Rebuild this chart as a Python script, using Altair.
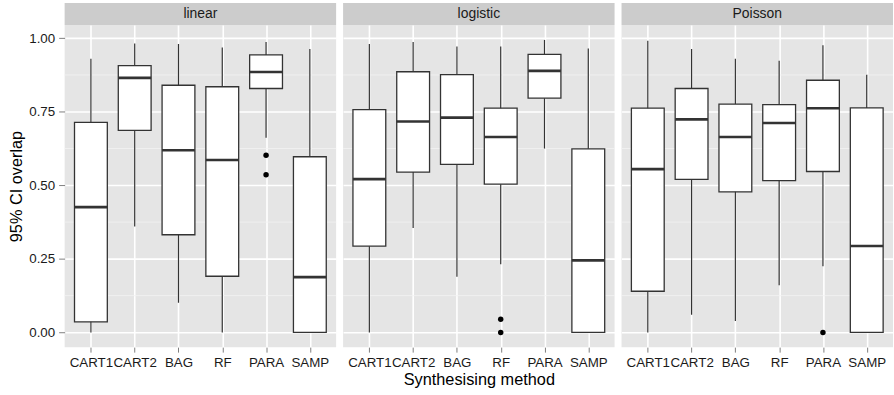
import altair as alt
import pandas as pd

categories = ["CART1", "CART2", "BAG", "RF", "PARA", "SAMP"]
models = ["linear", "logistic", "Poisson"]

# five-number summaries: low whisker, Q1, median, Q3, high whisker
linear_lo = [0.000, 0.360, 0.101, 0.000, 0.662, 0.000]
linear_q1 = [0.036, 0.687, 0.332, 0.191, 0.829, 0.000]
linear_med = [0.426, 0.865, 0.619, 0.586, 0.885, 0.188]
linear_q3 = [0.714, 0.907, 0.840, 0.835, 0.943, 0.597]
linear_hi = [0.930, 0.982, 0.980, 0.968, 0.987, 0.963]

logistic_lo = [0.000, 0.355, 0.189, 0.232, 0.625, 0.000]
logistic_q1 = [0.293, 0.545, 0.571, 0.504, 0.796, 0.000]
logistic_med = [0.521, 0.717, 0.730, 0.664, 0.889, 0.245]
logistic_q3 = [0.757, 0.886, 0.876, 0.762, 0.945, 0.624]
logistic_hi = [0.980, 0.987, 0.972, 0.972, 0.994, 0.965]

poisson_lo = [0.000, 0.060, 0.039, 0.160, 0.225, 0.000]
poisson_q1 = [0.140, 0.520, 0.478, 0.516, 0.547, 0.000]
poisson_med = [0.555, 0.724, 0.664, 0.712, 0.762, 0.294]
poisson_q3 = [0.762, 0.829, 0.776, 0.774, 0.857, 0.763]
poisson_hi = [0.991, 0.963, 0.930, 0.923, 0.976, 0.876]

outlier_model = ["linear", "linear", "logistic", "logistic", "Poisson"]
outlier_method = ["PARA", "PARA", "RF", "RF", "PARA"]
outlier_value = [0.602, 0.536, 0.045, 0.000, 0.000]

y_ticks = [0.0, 0.25, 0.5, 0.75, 1.0]
minor_ticks = [0.125, 0.375, 0.625, 0.875]

stats = {
    "linear": (linear_lo, linear_q1, linear_med, linear_q3, linear_hi),
    "logistic": (logistic_lo, logistic_q1, logistic_med, logistic_q3, logistic_hi),
    "Poisson": (poisson_lo, poisson_q1, poisson_med, poisson_q3, poisson_hi),
}

W = 273
H = 324
STRIP = 22
BOXW = 33
DARK = "#333333"
FONT = "Liberation Sans"

outliers_all = pd.DataFrame({"model": outlier_model, "method": outlier_method, "value": outlier_value})


def panel(model, idx):
    lo, q1, med, q3, hi = stats[model]
    box_df = pd.DataFrame({"method": categories, "lo": lo, "q1": q1, "med": med, "q3": q3, "hi": hi})
    out_df = outliers_all[outliers_all["model"] == model]
    strip_df = pd.DataFrame({"model": [model]})
    minor_df = pd.DataFrame({"v": minor_ticks})

    yscale = alt.Scale(domain=[-0.05, 1.045], nice=False, zero=False)
    if idx == 0:
        yaxis = alt.Axis(values=y_ticks, format=".2f", title="95% CI overlap", tickSize=6,
                         labelPadding=4, titlePadding=4, grid=True)
    else:
        yaxis = alt.Axis(values=y_ticks, labels=False, ticks=False, title=None, grid=True)
    xscale = alt.Scale(type="point", domain=categories, padding=0.6)
    xaxis = alt.Axis(title="Synthesising method" if idx == 1 else None, labelAngle=0,
                     tickSize=5, labelPadding=3, titlePadding=3, grid=True)

    def X():
        return alt.X("method:N", scale=xscale, axis=xaxis, sort=categories)

    minor = alt.Chart(minor_df).mark_rule(color="#F2F2F2", strokeWidth=0.8).encode(
        y=alt.Y("v:Q", scale=yscale, axis=yaxis)
    )
    whisker = alt.Chart(box_df).mark_rule(color=DARK, strokeWidth=1.2).encode(
        x=X(), y=alt.Y("lo:Q", scale=yscale, axis=yaxis), y2="hi:Q"
    )
    box = alt.Chart(box_df).mark_bar(size=BOXW, fill="white", stroke=DARK, strokeWidth=1.3).encode(
        x=X(), y=alt.Y("q1:Q", scale=yscale, axis=yaxis), y2="q3:Q"
    )
    median = alt.Chart(box_df).mark_tick(orient="horizontal", size=BOXW, thickness=2.6, color=DARK, opacity=1).encode(
        x=X(), y=alt.Y("med:Q", scale=yscale, axis=yaxis)
    )
    pts = alt.Chart(out_df).mark_circle(size=30, color="black", opacity=1).encode(
        x=X(), y=alt.Y("value:Q", scale=yscale, axis=yaxis)
    )
    strip_rect = alt.Chart(strip_df).mark_rect(color="#CCCCCC").encode(
        x=alt.value(0), x2=alt.value(W), y=alt.value(-STRIP), y2=alt.value(0)
    )
    strip_text = alt.Chart(strip_df).mark_text(font=FONT, fontSize=14, color="#1A1A1A", baseline="middle").encode(
        x=alt.value(W / 2), y=alt.value(-STRIP / 2), text="model:N"
    )
    return alt.layer(minor, whisker, box, median, pts, strip_rect, strip_text).properties(width=W, height=H)


chart = alt.hconcat(*[panel(m, i) for i, m in enumerate(models)], spacing=5).properties(
    padding={"left": 8, "top": 2, "right": 0, "bottom": 0}
).configure_view(
    fill="#E5E5E5", strokeWidth=0
).configure_axis(
    gridColor="white", gridWidth=1.6, domain=False,
    labelFont=FONT, labelFontSize=13.4, labelColor="#1A1A1A",
    tickColor="#7F7F7F", tickWidth=1,
    titleFont=FONT, titleFontSize=16.4, titleFontWeight="normal", titleColor="black"
)

chart.save("out.html", embed_options={"renderer": "svg", "actions": False})
